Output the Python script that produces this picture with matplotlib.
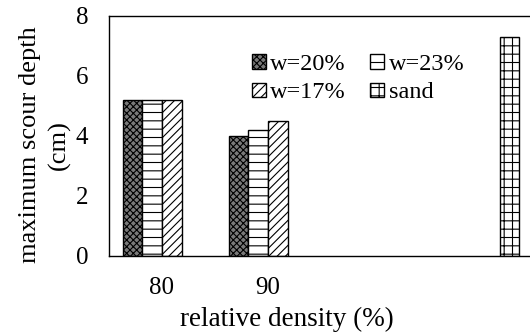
import numpy as np
import matplotlib
matplotlib.use("Agg")
import matplotlib.pyplot as plt

plt.rcParams['font.family'] = ['Liberation Serif', 'DejaVu Serif']
plt.rcParams['hatch.linewidth'] = 0.8

# data
categories = ['80', '90', '', '']
w20 = [5.2, 4.0, np.nan, np.nan]
w23 = [5.2, 4.2, np.nan, np.nan]
w17 = [5.2, 4.5, np.nan, np.nan]
sand = [np.nan, np.nan, np.nan, 7.3]
yticks = [0, 2, 4, 6, 8]

fig = plt.figure(figsize=(5.3, 3.36), dpi=100)
ax = fig.add_axes([109/530, 80/336, 424/530, 240/336])

x = np.arange(len(categories))
bw = 0.185
series = [
    (w20, 'w=20%', 'xxxxx', '#7a7a7a'),
    (w23, 'w=23%', '--', 'white'),
    (w17, 'w=17%', '////', 'white'),
    (sand, 'sand', '++', 'white'),
]
handles = []
for i, (vals, lab, hatch, fc) in enumerate(series):
    b = ax.bar(x + (i - 1.5) * bw, vals, bw, color=fc, edgecolor='black',
               linewidth=1.0, hatch=hatch, label=lab)
    handles.append(b)

ax.set_xlim(-0.5, 3.5)
ax.set_ylim(0, 8)
ax.set_yticks(yticks)
ax.set_xticks(x)
ax.set_xticklabels(categories)
ax.tick_params(axis='both', length=0, labelsize=18)
ax.tick_params(axis='y', pad=15)
ax.tick_params(axis='x', pad=15)
for s in ['top', 'left', 'bottom']:
    ax.spines[s].set_linewidth(1.0)
ax.spines['right'].set_visible(False)

fig.text(45/530, 1 - 145/336, 'maximum scour depth\n(cm)', rotation=90,
         ha='center', va='center', fontsize=19, linespacing=1.4)
fig.text(287/530, 1 - 319/336, 'relative density (%)', ha='center',
         va='center', fontsize=19.5)

leg = ax.legend([handles[0], handles[2], handles[1], handles[3]],
                ['w=20%', 'w=17%', 'w=23%', 'sand'], ncol=2, frameon=False,
                loc='upper left', bbox_to_anchor=(240/530, 1 - 42/336),
                bbox_transform=fig.transFigure, fontsize=17.5,
                handlelength=0.55, handleheight=0.55, handletextpad=0.2,
                columnspacing=1.0, labelspacing=0.3, borderpad=0)

fig.savefig('out.png', dpi=100, facecolor='white')
